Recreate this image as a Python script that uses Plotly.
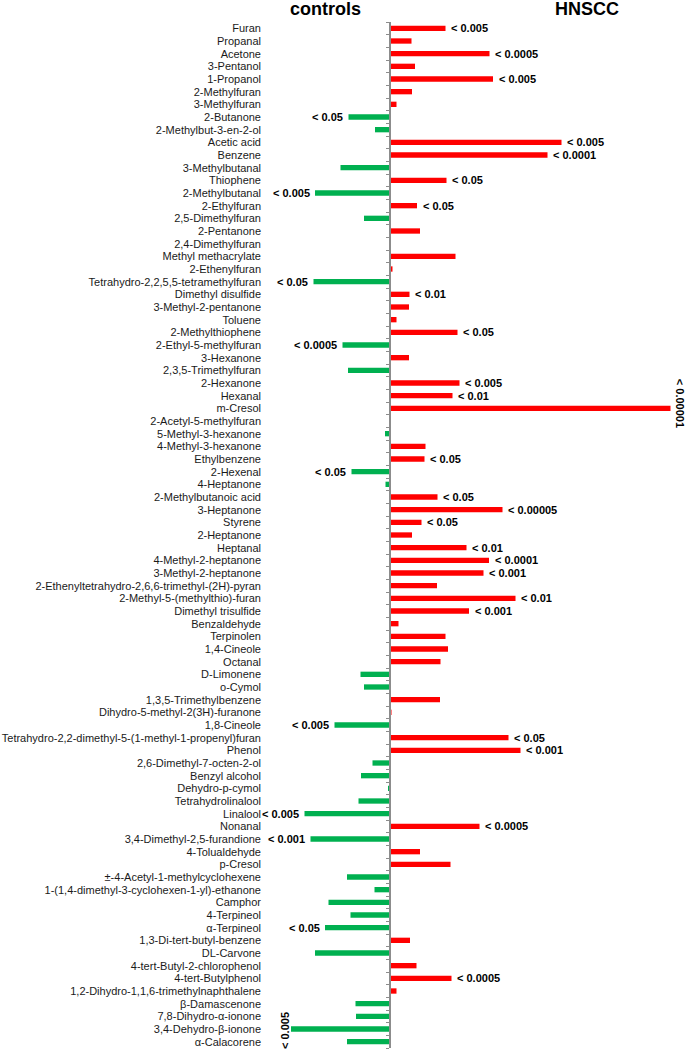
import plotly.graph_objects as go

compounds = [
    "Furan", "Propanal", "Acetone", "3-Pentanol", "1-Propanol", "2-Methylfuran",
    "3-Methylfuran", "2-Butanone", "2-Methylbut-3-en-2-ol", "Acetic acid", "Benzene",
    "3-Methylbutanal", "Thiophene", "2-Methylbutanal", "2-Ethylfuran", "2,5-Dimethylfuran",
    "2-Pentanone", "2,4-Dimethylfuran", "Methyl methacrylate", "2-Ethenylfuran",
    "Tetrahydro-2,2,5,5-tetramethylfuran", "Dimethyl disulfide", "3-Methyl-2-pentanone",
    "Toluene", "2-Methylthiophene", "2-Ethyl-5-methylfuran", "3-Hexanone",
    "2,3,5-Trimethylfuran", "2-Hexanone", "Hexanal", "m-Cresol", "2-Acetyl-5-methylfuran",
    "5-Methyl-3-hexanone", "4-Methyl-3-hexanone", "Ethylbenzene", "2-Hexenal", "4-Heptanone",
    "2-Methylbutanoic acid", "3-Heptanone", "Styrene", "2-Heptanone", "Heptanal",
    "4-Methyl-2-heptanone", "3-Methyl-2-heptanone",
    "2-Ethenyltetrahydro-2,6,6-trimethyl-(2H)-pyran", "2-Methyl-5-(methylthio)-furan",
    "Dimethyl trisulfide", "Benzaldehyde", "Terpinolen", "1,4-Cineole", "Octanal",
    "D-Limonene", "o-Cymol", "1,3,5-Trimethylbenzene", "Dihydro-5-methyl-2(3H)-furanone",
    "1,8-Cineole", "Tetrahydro-2,2-dimethyl-5-(1-methyl-1-propenyl)furan", "Phenol",
    "2,6-Dimethyl-7-octen-2-ol", "Benzyl alcohol", "Dehydro-p-cymol", "Tetrahydrolinalool",
    "Linalool", "Nonanal", "3,4-Dimethyl-2,5-furandione", "4-Tolualdehyde", "p-Cresol",
    "±-4-Acetyl-1-methylcyclohexene", "1-(1,4-dimethyl-3-cyclohexen-1-yl)-ethanone",
    "Camphor", "4-Terpineol", "α-Terpineol", "1,3-Di-tert-butyl-benzene", "DL-Carvone",
    "4-tert-Butyl-2-chlorophenol", "4-tert-Butylphenol",
    "1,2-Dihydro-1,1,6-trimethylnaphthalene", "β-Damascenone", "7,8-Dihydro-α-ionone",
    "3,4-Dehydro-β-ionone", "α-Calacorene",
]

# positive = higher in HNSCC, negative = higher in controls
values = [
    56, 22, 100, 25.5, 103.5, 22.5,
    7, -41, -14.5, 172, 158,
    -49, 57, -74.5, 27.5, -25.5,
    30.5, 0, 66, 3,
    -76, 20, 19.5,
    7, 68, -47, 19.5,
    -41.5, 70, 63, 281, 0.5,
    -4.5, 36, 35, -38, -4,
    48, 113, 32, 22.5, 77,
    99.5, 94,
    47.5, 126,
    79.5, 9, 56, 58.5, 51,
    -29, -25.5, 50.5, 2,
    -55, 119, 131,
    -17, -28.5, -1.5, -31,
    -85, 90, -79, 30.5, 61,
    -42.5, -15,
    -61, -39, -64.5, 20.5, -74.5,
    27, 62,
    7, -34, -33.5,
    -98.5, -42.5,
]

p_labels = [
    "< 0.005", "", "< 0.0005", "", "< 0.005", "",
    "", "< 0.05", "", "< 0.005", "< 0.0001",
    "", "< 0.05", "< 0.005", "< 0.05", "",
    "", "", "", "",
    "< 0.05", "< 0.01", "",
    "", "< 0.05", "< 0.0005", "",
    "", "< 0.005", "< 0.01", "< 0.00001", "",
    "", "", "< 0.05", "< 0.05", "",
    "< 0.05", "< 0.00005", "< 0.05", "", "< 0.01",
    "< 0.0001", "< 0.001",
    "", "< 0.01",
    "< 0.001", "", "", "", "",
    "", "", "", "",
    "< 0.005", "< 0.05", "< 0.001",
    "", "", "", "",
    "< 0.005", "< 0.0005", "< 0.001", "", "",
    "", "",
    "", "", "< 0.05", "", "",
    "", "< 0.0005",
    "", "", "",
    "< 0.005", "",
]

group_titles = ["controls", "HNSCC"]

RED = "#FF0000"
GREEN = "#00B050"
FONT = "Arial, 'Liberation Sans', sans-serif"

n = len(compounds)
colors = [RED if v >= 0 else GREEN for v in values]

x_min, x_max = -125.5, 295.5
y_range = [n - 0.5, -0.5]

fig = go.Figure()
fig.add_trace(go.Bar(
    x=values, y=compounds, orientation="h",
    marker=dict(color=colors, line=dict(width=0)),
    showlegend=False, hoverinfo="x+y",
))
# invisible trace carrying the central category axis (line + boundary ticks)
fig.add_trace(go.Scatter(
    x=[0] * n, y=compounds, yaxis="y2", mode="markers",
    marker=dict(opacity=0, size=1), showlegend=False, hoverinfo="skip",
))

bold = dict(family=FONT, size=11, color="#000000", weight="bold")
annotations = []
for c, v, lab in zip(compounds, values, p_labels):
    if not lab:
        continue
    if lab == "< 0.00001":
        annotations.append(dict(x=v, y=c, xref="x", yref="y", text=lab, showarrow=False,
                                textangle=90, xanchor="center", yanchor="middle",
                                xshift=9, yshift=5, font=bold))
    elif c == "3,4-Dehydro-β-ionone":
        annotations.append(dict(x=v, y=c, xref="x", yref="y", text=lab, showarrow=False,
                                textangle=-90, xanchor="center", yanchor="middle",
                                xshift=-6, yshift=-2, font=bold))
    elif v >= 0:
        annotations.append(dict(x=v, y=c, xref="x", yref="y", text=lab, showarrow=False,
                                xanchor="left", yanchor="middle", xshift=3.5, font=bold))
    else:
        annotations.append(dict(x=v, y=c, xref="x", yref="y", text=lab, showarrow=False,
                                xanchor="right", yanchor="middle", xshift=-3.5, font=bold))

for title, tx in zip(group_titles, [-64.5, 197.5]):
    annotations.append(dict(x=tx, y=1, xref="x", yref="paper", text=title, showarrow=False,
                            xanchor="center", yanchor="bottom", yshift=2, borderpad=0,
                            font=dict(family=FONT, size=18, color="#000000", weight="bold")))

fig.update_layout(
    width=685, height=1050,
    margin=dict(l=264, r=0, t=22, b=2, autoexpand=False),
    paper_bgcolor="white", plot_bgcolor="white",
    bargap=0.58,
    font=dict(family=FONT, size=11, color="#1a1a1a"),
    xaxis=dict(range=[x_min, x_max], showgrid=False, zeroline=False, showline=False,
               showticklabels=False, ticks="", automargin=False),
    yaxis=dict(type="category", categoryorder="array", categoryarray=compounds,
               tickmode="array", tickvals=compounds, ticktext=compounds,
               range=y_range, showgrid=False, zeroline=False, showline=False, ticks="",
               automargin=False, ticklabelstandoff=2,
               tickfont=dict(family=FONT, size=11, color="#1a1a1a")),
    yaxis2=dict(type="category", categoryorder="array", categoryarray=compounds,
                tickmode="array", tickvals=compounds,
                range=y_range, overlaying="y", anchor="free", automargin=False,
                position=(0 - x_min) / (x_max - x_min), side="left",
                showgrid=False, zeroline=False, showline=True, linecolor="#8c8c8c",
                linewidth=2, ticks="outside", ticklen=3, tickwidth=1, tickcolor="#8c8c8c",
                tickson="boundaries", showticklabels=False),
    annotations=annotations,
)

# remove the default 8px page margin so the figure sits at the window's corner
fig.write_html(
    "out.html",
    config={"displayModeBar": False},
    post_script="document.body.style.margin='0';document.body.style.overflow='hidden';",
)
